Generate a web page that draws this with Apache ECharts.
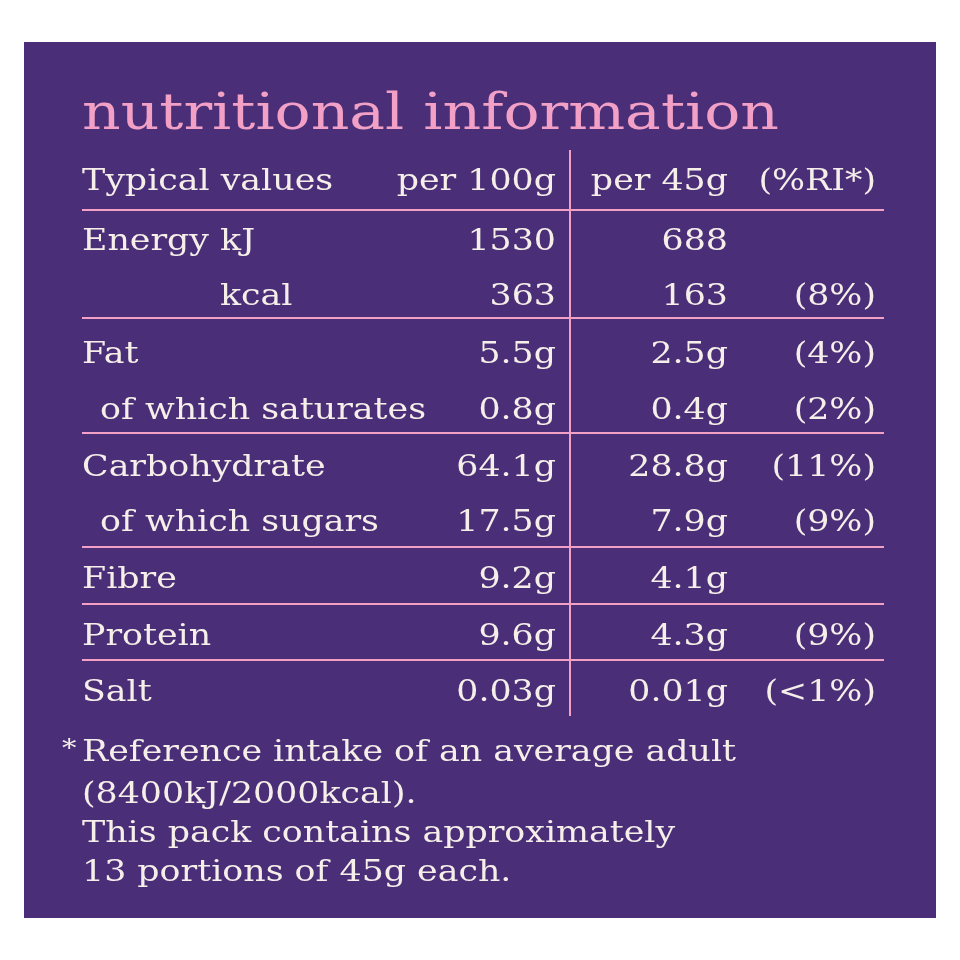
<!DOCTYPE html>
<html style="height: 100%">
  <head>
    <meta charset="utf-8" />
  </head>
  <body style="height: 100%; margin: 0">
    <div id="nutrition-container" style="width: 960px; height: 960px"></div>
    <script type="text/javascript" src="https://cdn.jsdelivr.net/npm/echarts@6/dist/echarts.min.js"></script>
    <script type="text/javascript">
      // 表格数据
      let rowLabels = ["Energy kJ", "kcal", "Fat", "of which saturates", "Carbohydrate", "of which sugars", "Fibre", "Protein", "Salt"]
      let per100g = ["1530", "363", "5.5g", "0.8g", "64.1g", "17.5g", "9.2g", "9.6g", "0.03g"]
      let per45g = ["688", "163", "2.5g", "0.4g", "28.8g", "7.9g", "4.1g", "4.3g", "0.01g"]
      let riPercent = ["", "(8%)", "(4%)", "(2%)", "(11%)", "(9%)", "", "(9%)", "(<1%)"]
      let headers = ["Typical values", "per 100g", "per 45g", "(%RI*)"]
      let footnote = [
        "Reference intake of an average adult",
        "(8400kJ/2000kcal).",
        "This pack contains approximately",
        "13 portions of 45g each.",
      ]

      const bg = "#4a2f78"
      const pink = "#f2a0c6"
      const cream = "#f6efe9"
      const font = "DejaVu Serif"
      const fs = 29
      const stretch = 1.2 // 字体横向拉伸，模拟宽体衬线字

      // 行位置
      const rowY = [242, 297, 355, 411, 468, 523, 580, 637, 693]
      const labelX = [82, 220, 82, 100, 82, 100, 82, 82, 82]
      const lineY = [210, 318, 433, 547, 604, 660]

      function txt(x, y, s, align, color, size) {
        return {
          type: "text",
          x: x,
          y: y,
          scaleX: stretch,
          style: {
            text: s,
            fill: color || cream,
            font: (size || fs) + "px '" + font + "'",
            textAlign: align || "left",
            textVerticalAlign: "middle",
          },
        }
      }

      var elements = [
        { type: "rect", shape: { x: 24, y: 42, width: 912, height: 876 }, style: { fill: bg } },
        txt(82, 116, "nutritional information", "left", pink, 50),
        txt(82, 182, headers[0]),
        txt(556, 182, headers[1], "right"),
        txt(728, 182, headers[2], "right"),
        txt(876, 182, headers[3], "right"),
        { type: "line", shape: { x1: 570, y1: 150, x2: 570, y2: 716 }, style: { stroke: pink, lineWidth: 2 } },
      ]
      lineY.forEach(function (y) {
        elements.push({ type: "line", shape: { x1: 82, y1: y, x2: 884, y2: y }, style: { stroke: pink, lineWidth: 2 } })
      })
      rowLabels.forEach(function (l, i) {
        elements.push(txt(labelX[i], rowY[i], l))
        elements.push(txt(556, rowY[i], per100g[i], "right"))
        elements.push(txt(728, rowY[i], per45g[i], "right"))
        if (riPercent[i]) elements.push(txt(876, rowY[i], riPercent[i], "right"))
      })
      elements.push(txt(62, 750, "*", "left", cream, 24))
      const footY = [753, 795, 834, 873]
      footnote.forEach(function (l, i) {
        elements.push(txt(82, footY[i], l))
      })

      var myChart = echarts.init(document.getElementById("nutrition-container"))
      var option = {
        backgroundColor: "#ffffff",
        graphic: { elements: elements },
      }
      myChart.setOption(option)
    </script>
  </body>
</html>
